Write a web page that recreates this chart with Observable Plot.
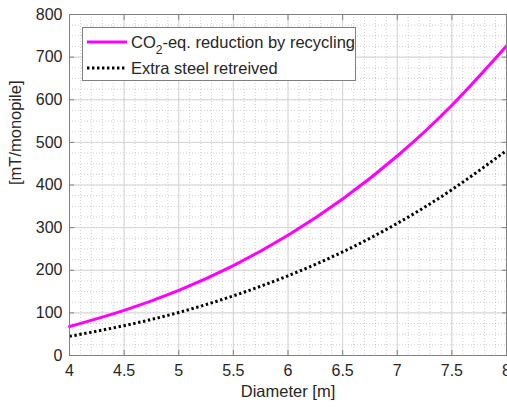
<!DOCTYPE html>
<html>
<head>
<meta charset="utf-8">
<script src="https://cdn.jsdelivr.net/npm/d3@7"></script>
<script src="https://cdn.jsdelivr.net/npm/@observablehq/plot@0.6"></script>
<style>
  html, body { margin: 0; padding: 0; background: #fff; }
  #chart svg { display: block; font-family: "Liberation Sans", Arial, Helvetica, sans-serif; }
</style>
</head>
<body>
<div id="chart"></div>
<script>
// Monopile diameter [m]
const diameter = [4, 4.5, 5, 5.5, 6, 6.5, 7, 7.5, 8];
// CO2-eq. reduction by recycling [mT/monopile]
const co2Reduction = [68, 106, 153, 211, 282, 367, 468, 587, 726];
// Extra steel retrieved [mT/monopile]
const extraSteel = [45, 70, 101, 140, 187, 243, 310, 389, 481];

const xTicks = [4, 4.5, 5, 5.5, 6, 6.5, 7, 7.5, 8];
const yTicks = [0, 100, 200, 300, 400, 500, 600, 700, 800];
const xMinor = d3.range(40, 81).map(d => d / 10);
const yMinor = d3.range(0, 33).map(d => d * 25);

const seriesCO2 = diameter.map((d, i) => ({x: d, y: co2Reduction[i]}));
const seriesSteel = diameter.map((d, i) => ({x: d, y: extraSteel[i]}));

const axisColor = "#808080";
const textColor = "#262626";
const dots = "2.4,2.6";

const plot = Plot.plot({
  width: 507,
  height: 410,
  marginTop: 14,
  marginLeft: 69,
  marginRight: 1,
  marginBottom: 55,
  style: {fontFamily: "'Liberation Sans', Arial, Helvetica, sans-serif", color: textColor, background: "#fff"},
  x: {domain: [4, 8]},
  y: {domain: [0, 800]},
  marks: [
    // minor grid
    Plot.gridX(xMinor, {stroke: "#b0b0b0", strokeOpacity: 0.6, strokeDasharray: "1,2"}),
    Plot.gridY(yMinor, {stroke: "#b0b0b0", strokeOpacity: 0.6, strokeDasharray: "1,2"}),
    // major grid
    Plot.gridX(xTicks, {stroke: "#d4d4d4", strokeOpacity: 1}),
    Plot.gridY(yTicks, {stroke: "#d4d4d4", strokeOpacity: 1}),
    // data
    Plot.line(seriesCO2, {x: "x", y: "y", stroke: "#ff00ff", strokeWidth: 3, curve: "natural"}),
    Plot.line(seriesSteel, {x: "x", y: "y", stroke: "#000", strokeWidth: 3, strokeDasharray: dots, strokeLinecap: "butt", curve: "natural"}),
    // box
    Plot.frame({stroke: axisColor, strokeWidth: 1}),
    // tick labels
    Plot.axisY(yTicks, {tickSize: 0, tickPadding: 7, fontSize: 16, label: null, color: textColor}),
    Plot.axisX(xTicks, {tickSize: 0, tickPadding: 9, fontSize: 16, label: null, color: textColor, tickFormat: d => String(d)}),
    // inward tick marks on all four sides
    Plot.axisY(yTicks, {anchor: "left", tickSize: 5, dx: 5, text: null, label: null, stroke: axisColor}),
    Plot.axisY(yTicks, {anchor: "right", tickSize: 5, dx: -5, text: null, label: null, stroke: axisColor}),
    Plot.axisX(xTicks, {anchor: "bottom", tickSize: 5, dy: -5, text: null, label: null, stroke: axisColor}),
    Plot.axisX(xTicks, {anchor: "top", tickSize: 5, dy: 5, text: null, label: null, stroke: axisColor}),
    // axis titles
    Plot.text(["Diameter [m]"], {frameAnchor: "bottom", dy: 41, fontSize: 16.5, fill: textColor}),
    Plot.text(["[mT/monopile]"], {frameAnchor: "left", dx: -54, rotate: -90, fontSize: 16.5, fill: textColor})
  ]
});

document.getElementById("chart").appendChild(plot);

// legend box in the upper-left corner of the axes
const svg = d3.select(plot);
const lg = svg.append("g")
  .attr("font-size", 16.5)
  .attr("fill", textColor)
  .attr("text-anchor", "start");
lg.append("rect")
  .attr("x", 82.5).attr("y", 27.5).attr("width", 273).attr("height", 53)
  .attr("fill", "#fff").attr("stroke", axisColor).attr("stroke-width", 1);
lg.append("line")
  .attr("x1", 87).attr("x2", 127).attr("y1", 42).attr("y2", 42)
  .attr("stroke", "#ff00ff").attr("stroke-width", 3);
lg.append("line")
  .attr("x1", 87).attr("x2", 127).attr("y1", 68).attr("y2", 68)
  .attr("stroke", "#000").attr("stroke-width", 3).attr("stroke-dasharray", dots);
const t1 = lg.append("text").attr("x", 131).attr("y", 42).attr("dy", "0.35em");
t1.append("tspan").text("CO");
t1.append("tspan").attr("font-size", 12).attr("dy", 6).text("2");
t1.append("tspan").attr("dy", -6).text("-eq. reduction by recycling");
lg.append("text").attr("x", 131).attr("y", 68).attr("dy", "0.35em").text("Extra steel retreived");
</script>
</body>
</html>
